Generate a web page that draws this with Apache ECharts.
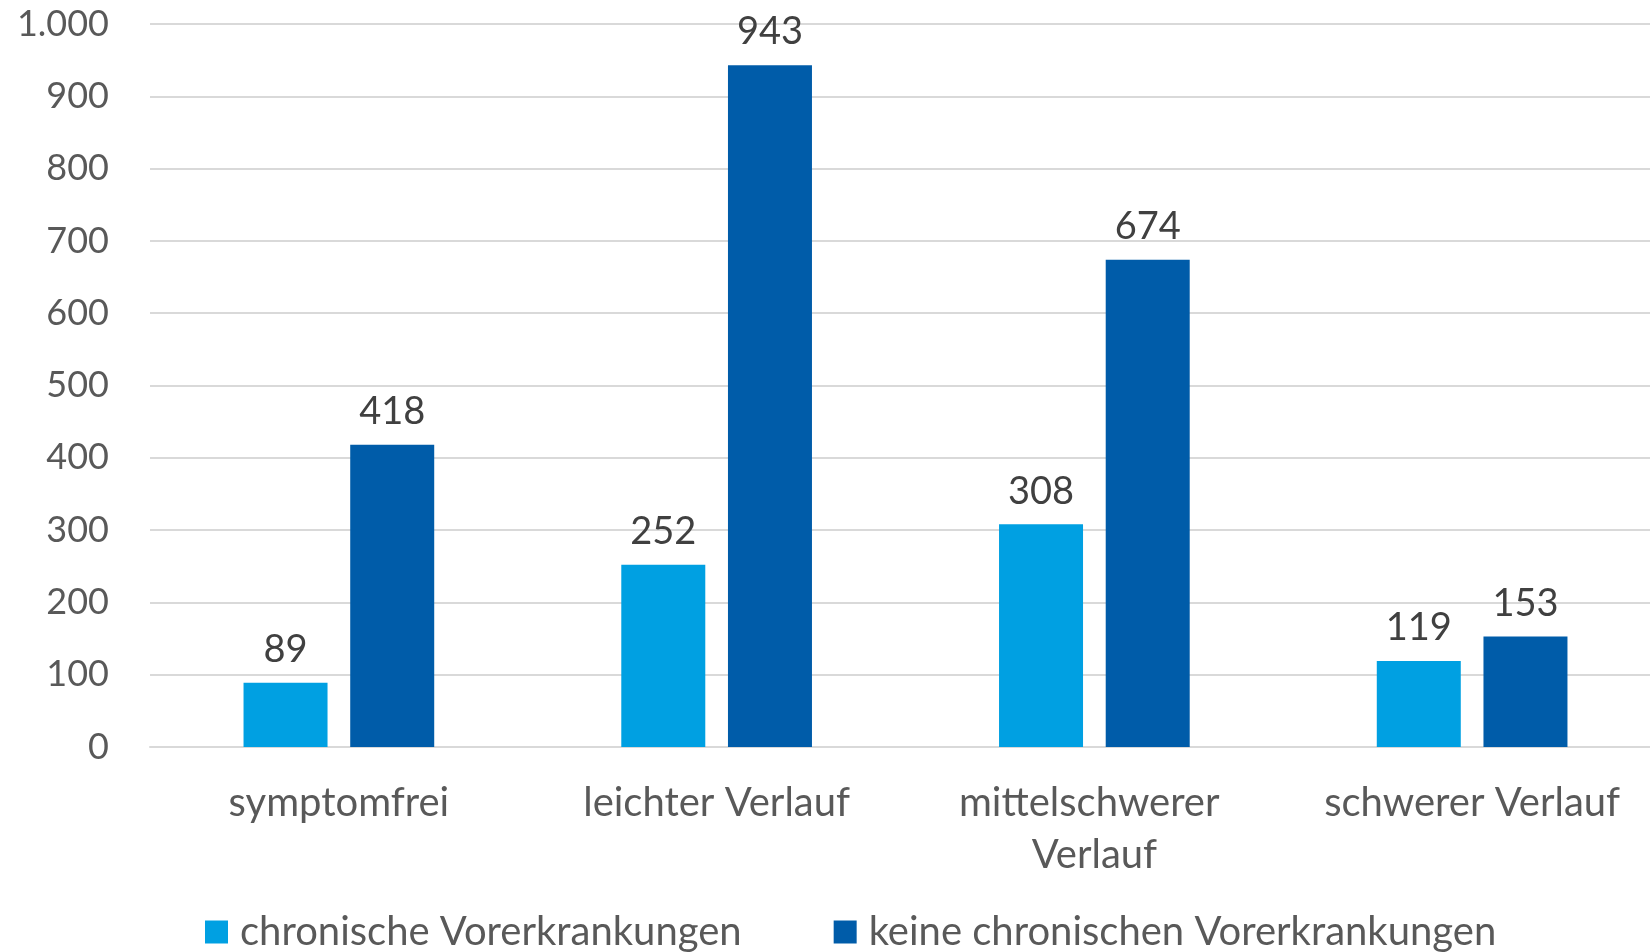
<!DOCTYPE html>
<html>
<head>
<meta charset="utf-8">
<script src="https://cdn.jsdelivr.net/npm/echarts@6/dist/echarts.min.js"></script>
<style>
  html, body { margin: 0; padding: 0; background: #fff; }
  #chart { width: 1650px; height: 952px; }
</style>
</head>
<body>
<div id="chart"></div>
<script>
// Data
const categories = ["symptomfrei", "leichter Verlauf", "mittelschwerer Verlauf", "schwerer Verlauf"];
const seriesNames = ["chronische Vorerkrankungen", "keine chronischen Vorerkrankungen"];
const chronic = [89, 252, 308, 119];
const noChronic = [418, 943, 674, 153];

const FONT = "Lato";
const fmt = (v) => String(v).replace(/\B(?=(\d{3})+(?!\d))/g, ".");

const chart = echarts.init(document.getElementById("chart"));

const labelStyle = {
  show: true,
  position: "top",
  distance: 14,
  color: "#404040",
  fontFamily: FONT,
  fontSize: 38,
  formatter: (p) => fmt(p.value),
};

chart.setOption({
  backgroundColor: "#fff",
  animation: false,
  color: ["#00A0E2", "#005CA9"],
  grid: { left: 150, right: -11, top: 24, bottom: 205, outerBoundsMode: "none" },
  legend: {
    bottom: 0,
    left: 205,
    padding: 0,
    itemWidth: 23,
    itemHeight: 23,
    itemGap: 92,
    icon: "rect",
    textStyle: { color: "#595959", fontFamily: FONT, fontSize: 40, padding: [0, 0, 0, 7] },
    data: seriesNames,
  },
  xAxis: {
    type: "category",
    data: categories,
    axisLine: { lineStyle: { color: "#D9D9D9", width: 2 } },
    axisTick: { show: false },
    axisLabel: {
      color: "#595959",
      fontFamily: FONT,
      fontSize: 40,
      margin: 30,
      lineHeight: 52,
      width: 340,
      overflow: "break",
      interval: 0,
    },
  },
  yAxis: {
    type: "value",
    min: 0,
    max: 1000,
    interval: 100,
    axisLine: { show: false },
    axisTick: { show: false },
    axisLabel: {
      color: "#595959",
      fontFamily: FONT,
      fontSize: 36,
      margin: 41,
      formatter: fmt,
    },
    splitLine: { lineStyle: { color: "#D9D9D9", width: 2 } },
  },
  series: [
    {
      name: seriesNames[0],
      type: "bar",
      data: chronic,
      barWidth: 84,
      barGap: "27%",
      label: labelStyle,
    },
    {
      name: seriesNames[1],
      type: "bar",
      data: noChronic,
      barWidth: 84,
      label: labelStyle,
    },
  ],
});

window.addEventListener("resize", () => chart.resize());
</script>
</body>
</html>
